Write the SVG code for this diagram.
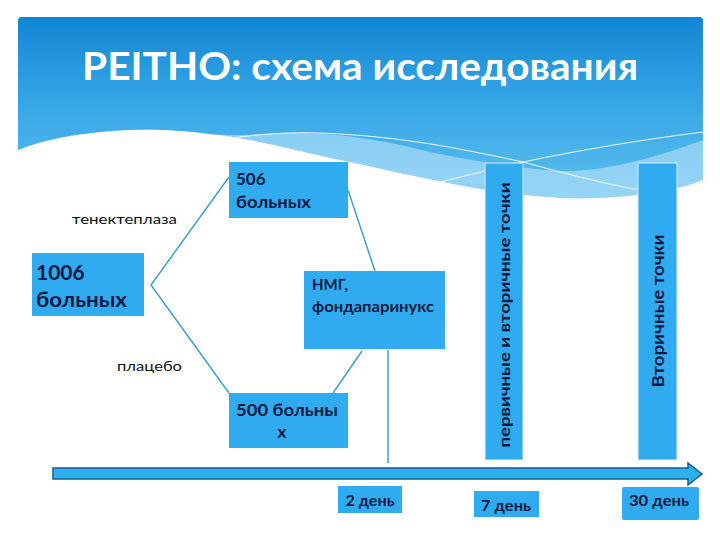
<svg xmlns="http://www.w3.org/2000/svg" width="720" height="540" viewBox="0 0 720 540">
  <defs>
    <linearGradient id="hdr" x1="0" y1="0" x2="0" y2="1">
      <stop offset="0" stop-color="#1386d2"/>
      <stop offset="0.55" stop-color="#35a6e6"/>
      <stop offset="1" stop-color="#52b8ec"/>
    </linearGradient>
    <linearGradient id="band" x1="0" y1="0" x2="0" y2="1">
      <stop offset="0" stop-color="#6fc3f0"/>
      <stop offset="1" stop-color="#97d4f6"/>
    </linearGradient>
  </defs>
  <style>
    .box { fill: #30abf0; }
    .vbox { fill: #30abf0; stroke: #d6efff; stroke-width: 1; }
    .bt { font-family: Lato, "Open Sans", "Liberation Sans", sans-serif; font-weight: bold; fill: #0b1a40; }
    .lbl { font-family: Lato, "Open Sans", "Liberation Sans", sans-serif; fill: #111; font-size: 14px; }
    .con { stroke: #3f9fd3; stroke-width: 1.5; fill: none; }
  </style>
  <rect width="720" height="540" fill="#ffffff"/>
  <!-- header background -->
  <g id="header">
    <path d="M18,21 Q18,17 22,17 L699,17 Q703,17 703,21 L703,180 C670,194 610,200 560,198 C480,194 400,172 330,158 C280,146 240,137 210,134 C160,128 130,129 100,132 C60,136 35,143 18,150 Z" fill="url(#band)"/>
    <path d="M18,21 Q18,17 22,17 L699,17 Q703,17 703,21 L703,140 C650,160 600,172 560,171 C510,168 470,160 430,152 C390,142 350,134 300,133 C260,133 240,137 210,134 C160,128 130,129 100,132 C60,136 35,143 18,150 Z" fill="url(#hdr)"/>
    <path d="M232,138 C260,134 290,132 320,133 C390,136 440,144 523,162 C560,172 600,183 640,190" stroke="#ffffff" stroke-width="1" fill="none" opacity="0.9"/>
    <path d="M440,182 C470,175 495,168 523,162 C580,150 640,140 703,132" stroke="#ffffff" stroke-width="1" fill="none" opacity="0.9"/>
    <text x="82" y="80" font-family="Lato, 'Open Sans', 'Liberation Sans', sans-serif" font-weight="bold" font-size="38" fill="#ffffff" textLength="556" lengthAdjust="spacingAndGlyphs">PEITHO: схема исследования</text>
  </g>
  <!-- connectors -->
  <g id="connectors">
    <polyline class="con" points="229,177 151,285 229,393"/>
    <line class="con" x1="348" y1="190" x2="375" y2="271"/>
    <line class="con" x1="333" y1="393" x2="362" y2="351"/>
    <line class="con" x1="388" y1="350" x2="388" y2="463" stroke-width="1"/>
  </g>
  <g id="n1006">
    <rect class="box" x="32" y="253" width="112" height="63"/>
    <text class="bt" x="36" y="280" font-size="21">1006</text>
    <text class="bt" x="36" y="307" font-size="21" textLength="91" lengthAdjust="spacingAndGlyphs">больных</text>
  </g>
  <g id="n506">
    <rect class="box" x="229" y="162" width="119" height="56"/>
    <text class="bt" x="236" y="185" font-size="17">506</text>
    <text class="bt" x="236" y="208" font-size="17" textLength="75" lengthAdjust="spacingAndGlyphs">больных</text>
  </g>
  <g id="lbl-tenekteplaza">
    <text class="lbl" x="72" y="224" textLength="105" lengthAdjust="spacingAndGlyphs">тенектеплаза</text>
  </g>
  <g id="lbl-placebo">
    <text class="lbl" x="117" y="371" textLength="65" lengthAdjust="spacingAndGlyphs">плацебо</text>
  </g>
  <g id="nNMG">
    <rect class="box" x="304" y="271" width="141" height="78"/>
    <text class="bt" x="312" y="290" font-size="15">НМГ,</text>
    <text class="bt" x="312" y="312" font-size="15" textLength="122" lengthAdjust="spacingAndGlyphs">фондапаринукс</text>
  </g>
  <g id="n500">
    <rect class="box" x="229" y="393" width="119" height="55"/>
    <text class="bt" x="287" y="416" font-size="17" text-anchor="middle" textLength="102" lengthAdjust="spacingAndGlyphs">500 больны</text>
    <text class="bt" x="282" y="438" font-size="17" text-anchor="middle">х</text>
  </g>
  <g id="v1">
    <rect class="vbox" x="485" y="163" width="38" height="297"/>
    <text class="bt" transform="translate(510,315) rotate(-90)" font-size="16" text-anchor="middle" textLength="265" lengthAdjust="spacingAndGlyphs">первичные и вторичные точки</text>
  </g>
  <g id="v2">
    <rect class="vbox" x="638" y="163" width="39" height="297"/>
    <text class="bt" transform="translate(664,311) rotate(-90)" font-size="17" text-anchor="middle" textLength="153" lengthAdjust="spacingAndGlyphs">Вторичные точки</text>
  </g>
  <g id="timeline">
    <path d="M53,468 L688,468 L688,463 L702,474 L688,485 L688,479 L53,479 Z" fill="#2bb0f0" stroke="#1a5f8e" stroke-width="1.5" stroke-linejoin="miter"/>
  </g>
  <g id="d2">
    <rect class="box" x="338" y="486" width="64" height="27"/>
    <text class="bt" x="370" y="506" font-size="15" text-anchor="middle" textLength="49" lengthAdjust="spacingAndGlyphs">2 день</text>
  </g>
  <g id="d7">
    <rect class="box" x="474" y="491" width="65" height="26"/>
    <text class="bt" x="506" y="511" font-size="15" text-anchor="middle" textLength="50" lengthAdjust="spacingAndGlyphs">7 день</text>
  </g>
  <g id="d30">
    <rect class="box" x="622" y="487" width="77" height="33" rx="2"/>
    <text class="bt" x="659" y="506" font-size="15" text-anchor="middle" textLength="60" lengthAdjust="spacingAndGlyphs">30 день</text>
  </g>
</svg>
